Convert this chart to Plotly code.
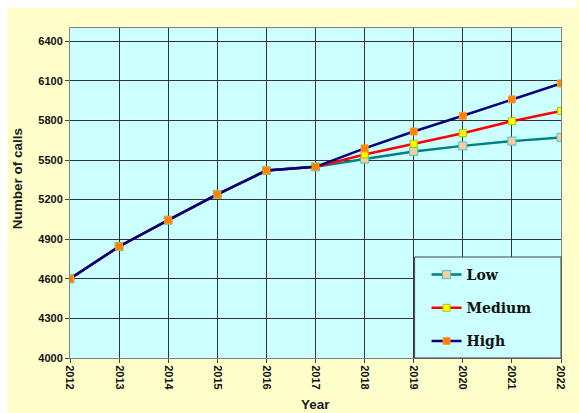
import plotly.graph_objects as go

# Forecast of annual call volume, 2012-2022
years = [2012, 2013, 2014, 2015, 2016, 2017, 2018, 2019, 2020, 2021, 2022]
low = [4600, 4845, 5044, 5239, 5421, 5448, 5507, 5565, 5607, 5643, 5671]
medium = [4600, 4845, 5044, 5239, 5421, 5448, 5542, 5623, 5703, 5794, 5872]
high = [4600, 4845, 5044, 5239, 5421, 5448, 5588, 5716, 5835, 5959, 6080]
y_ticks = [4000, 4300, 4600, 4900, 5200, 5500, 5800, 6100, 6400]

W, H = 579, 413
L, R, T, B = 70, 16, 28, 55
pw, ph = W - L - R, H - T - B

fig = go.Figure()

series = [
    ("Low", low, "#008080", "#ffcc99", "#33cccc", 8),
    ("Medium", medium, "#ff0000", "#ffff00", "#99cc00", 7),
    ("High", high, "#000080", "#ff8000", "#ff9933", 7),
]
for name, vals, lc, mfill, medge, ms in series:
    fig.add_trace(go.Scatter(
        x=years, y=vals, name=name, mode="lines+markers",
        legendgroup=name,
        line=dict(color=lc, width=2.5),
        marker=dict(symbol="square", size=ms, color=mfill,
                    line=dict(color=medge, width=1)),
    ))

def px_x(p):
    return (p - L) / pw

def px_y(p):
    return (H - B - p) / ph

shapes = [
    # white strips along the top and left edges of the page
    dict(type="rect", xref="paper", yref="paper", layer="above",
         x0=px_x(0), x1=px_x(7), y0=px_y(H), y1=px_y(0),
         fillcolor="white", line=dict(width=0)),
    dict(type="rect", xref="paper", yref="paper", layer="above",
         x0=px_x(0), x1=px_x(W), y0=px_y(8), y1=px_y(0),
         fillcolor="white", line=dict(width=0)),
    # legend panel in the lower-right corner of the plot
    dict(type="rect", xref="paper", yref="paper", layer="above",
         x0=px_x(416), x1=1, y0=0, y1=px_y(257),
         fillcolor="#ccffff", line=dict(color="#404040", width=1)),
]

fig.update_layout(
    width=W, height=H,
    margin=dict(l=L, r=R, t=T, b=B),
    paper_bgcolor="#ffffcc",
    plot_bgcolor="#ccffff",
    shapes=shapes,
    showlegend=True,
    legend=dict(
        x=px_x(428), y=px_y(259), xanchor="left", yanchor="top",
        bgcolor="rgba(0,0,0,0)", borderwidth=0,
        tracegroupgap=12,
        font=dict(family="DejaVu Serif", size=14, color="#111111", weight="bold"),
    ),
    xaxis=dict(
        range=[2012, 2022], tickvals=years, ticktext=[str(y) for y in years],
        tickangle=90, ticks="outside", ticklen=4, tickcolor="#404040",
        showgrid=True, gridcolor="#333333", gridwidth=1.3,
        showline=True, linecolor="#808080", linewidth=1, mirror=True,
        zeroline=False,
        tickfont=dict(family="Liberation Sans", size=11, color="#111111", weight="bold"),
    ),
    yaxis=dict(
        range=[4000, 6500], tickvals=y_ticks,
        ticks="outside", ticklen=4, tickcolor="#404040",
        showgrid=True, gridcolor="#333333", gridwidth=1.3,
        showline=True, linecolor="#808080", linewidth=1, mirror=True,
        zeroline=False,
        tickfont=dict(family="Liberation Sans", size=11, color="#111111", weight="bold"),
    ),
    annotations=[
        dict(text="Number of calls", xref="paper", yref="paper",
             x=px_x(18), y=px_y(179), textangle=-90, showarrow=False,
             xanchor="center", yanchor="middle",
             font=dict(family="Liberation Sans", size=13.5, color="#1a1a1a", weight="bold")),
        dict(text="Year", xref="paper", yref="paper",
             x=px_x(316), y=px_y(404), showarrow=False,
             xanchor="center", yanchor="middle",
             font=dict(family="Liberation Sans", size=13.5, color="#1a1a1a", weight="bold")),
    ],
)

fig.write_html("out.html")
